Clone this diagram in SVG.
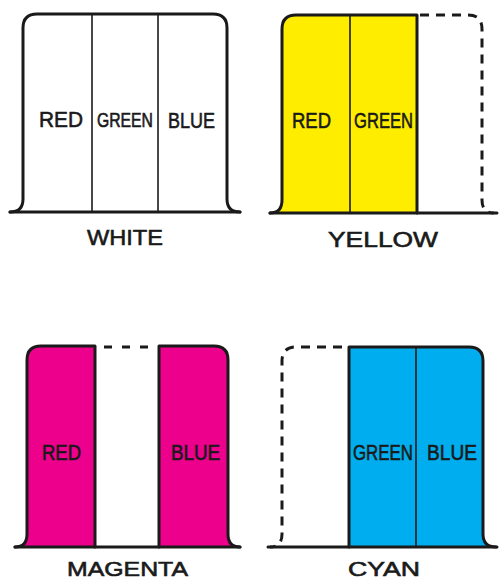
<svg xmlns="http://www.w3.org/2000/svg" width="499" height="580" viewBox="0 0 499 580">
<style>
.o{fill:none;stroke:#1a1a1a;stroke-width:3;stroke-linecap:round;stroke-linejoin:round}
.d{fill:none;stroke:#1a1a1a;stroke-width:3;stroke-linecap:butt;stroke-dasharray:9 7}
.v{stroke:#1a1a1a;stroke-width:1.6}
.t{font-family:"Liberation Sans",Arial,sans-serif;font-size:22px;fill:#1a1a1a;stroke:#1a1a1a;stroke-width:0.6}
.b{font-size:20px}
</style>
<rect width="499" height="580" fill="#ffffff"/>
<g id="white">
<path d="M10,212 Q23,212 23,199 L23,28 Q23,14 37,14 L213,14 Q227,14 227,28 L227,199 Q227,212 240,212 Z" fill="#ffffff"/>
<path class="o" d="M10,212 Q23,212 23,199 L23,28 Q23,14 37,14 L213,14 Q227,14 227,28 L227,199 Q227,212 240,212"/>
<line class="v" x1="92" y1="14" x2="92" y2="212"/>
<line class="v" x1="158" y1="14" x2="158" y2="212"/>
<path class="o" d="M10,212 L240,212"/>
<text class="t" x="39" y="127" textLength="44" lengthAdjust="spacingAndGlyphs">RED</text>
<text class="t" x="97" y="127" textLength="56" lengthAdjust="spacingAndGlyphs" style="font-size:19.5px">GREEN</text>
<text class="t" x="168" y="128" textLength="47" lengthAdjust="spacingAndGlyphs">BLUE</text>
<text class="t" x="87" y="245" textLength="76" lengthAdjust="spacingAndGlyphs">WHITE</text>
</g>
<g id="yellow">
<path d="M270,213 Q282,213 282,200 L282,29 Q282,15 296,15 L417,15 L417,213 Z" fill="#ffed00"/>
<path class="o" d="M270,213 Q282,213 282,200 L282,29 Q282,15 296,15 L417,15 L417,213"/>
<line class="v" x1="350" y1="15" x2="350" y2="213"/>
<path class="d" d="M420,15 L468,15 Q482,15 482,29 L482,200 Q482,213 494,213"/>
<path class="o" d="M270,213 L497,213"/>
<text class="t" x="292" y="128" textLength="39" lengthAdjust="spacingAndGlyphs">RED</text>
<text class="t" x="354" y="128" textLength="59" lengthAdjust="spacingAndGlyphs">GREEN</text>
<text class="t" x="328" y="247" textLength="110" lengthAdjust="spacingAndGlyphs">YELLOW</text>
</g>
<g id="magenta">
<path d="M15,547 Q27,547 27,534 L27,360 Q27,346 41,346 L95,346 L95,547 Z" fill="#ec008c"/>
<path d="M159,346 L214,346 Q228,346 228,360 L228,534 Q228,547 240,547 L159,547 Z" fill="#ec008c"/>
<path class="o" d="M15,547 Q27,547 27,534 L27,360 Q27,346 41,346 L95,346 L95,547"/>
<path class="o" d="M159,547 L159,346 L214,346 Q228,346 228,360 L228,534 Q228,547 240,547"/>
<path fill="none" stroke="#1a1a1a" stroke-width="3" stroke-dasharray="8 10" d="M104,347 L150,347"/>
<path class="o" d="M15,547 L240,547"/>
<text class="t" x="42" y="460" textLength="39" lengthAdjust="spacingAndGlyphs">RED</text>
<text class="t" x="171" y="460" textLength="49" lengthAdjust="spacingAndGlyphs">BLUE</text>
<text class="t b" x="67" y="575.5" textLength="121" lengthAdjust="spacingAndGlyphs">MAGENTA</text>
</g>
<g id="cyan">
<path d="M349,347 L469,347 Q483,347 483,361 L483,534 Q483,547 496,547 L349,547 Z" fill="#00aeef"/>
<path class="o" d="M349,547 L349,347 L469,347 Q483,347 483,361 L483,534 Q483,547 496,547"/>
<line class="v" x1="416" y1="347" x2="416" y2="547"/>
<path class="d" d="M342,347 L296,347 Q282,347 282,361 L282,534 Q282,547 270,547"/>
<path class="o" d="M268,547 L497,547"/>
<text class="t" x="353" y="460" textLength="60" lengthAdjust="spacingAndGlyphs">GREEN</text>
<text class="t" x="427" y="460" textLength="50" lengthAdjust="spacingAndGlyphs">BLUE</text>
<text class="t b" x="348" y="575.5" textLength="72" lengthAdjust="spacingAndGlyphs">CYAN</text>
</g>
</svg>
